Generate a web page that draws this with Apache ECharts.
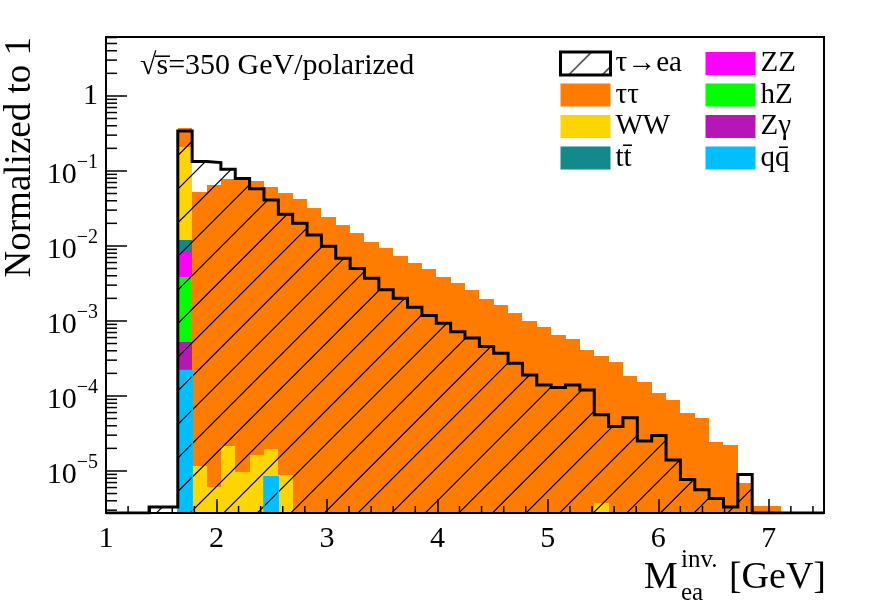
<!DOCTYPE html>
<html>
<head>
<meta charset="utf-8">
<script src="https://cdn.jsdelivr.net/npm/echarts@6/dist/echarts.min.js"></script>
<style>
html, body { margin: 0; padding: 0; background: #fff; }
#chart { width: 888px; height: 603px; }
</style>
</head>
<body>
<div id="chart"></div>
<script>
// binning of M_ea^inv (GeV)
var binLow = 1.0, binWidth = 0.13, nBins = 50;
var xMin = 1, xMax = 7.5;
var yMin = 2.75e-6, yMax = 6.1;

// tau -> e a signal (hatched, black outline)
var tauEa = [
    0, 0, 0, 3.3e-6, 3.3e-6, 0.341, 0.133, 0.129, 0.105, 0.079,
    0.058, 0.041, 0.0264, 0.020, 0.014, 0.0099, 0.00685, 0.0050, 0.0037, 0.0026,
    0.0020, 0.00152, 0.00118, 0.00093, 0.00072, 0.00059, 0.000455, 0.00037, 0.000273, 0.00019,
    0.00014, 0.00013, 0.00014, 0.00012, 5.6e-5, 3.9e-5, 5.1e-5, 2.5e-5, 2.96e-5, 1.4e-5,
    7.7e-6, 5.6e-6, 4.3e-6, 3.3e-6, 9.0e-6, 0, 0, 0, 0, 0
];
// backgrounds
var tautau = [
    0, 0, 0, 0, 0, 0.16, 0.052, 0.065, 0.0775, 0.0775,
    0.0736, 0.0606, 0.0504, 0.0419, 0.0318, 0.0246, 0.0190, 0.0150, 0.0113, 0.0093,
    0.0074, 0.0059, 0.0049, 0.0039, 0.0032, 0.0026, 0.00197, 0.00164, 0.00129, 0.00100,
    0.00082, 0.00065, 0.00057, 0.00041, 0.00034, 0.00028, 0.000185, 0.000155, 0.000109, 8.9e-5,
    6.0e-5, 5.1e-5, 2.4e-5, 2.2e-5, 6.9e-6, 3.4e-6, 3.4e-6, 0, 0, 0
];
var ww = [
    0, 0, 0, 0, 0, 0.199, 1.18e-5, 6.2e-6, 2.18e-5, 9.8e-6,
    1.63e-5, 1.12e-5, 8.7e-6, 0, 0, 0, 0, 0, 0, 0,
    0, 0, 0, 0, 0, 0, 0, 0, 0, 0,
    0, 0, 0, 0, 3.7e-6, 0, 0, 0, 0, 0,
    0, 0, 0, 0, 0, 0, 0, 0, 0, 0
];
var ttbar = [
    0, 0, 0, 0, 0, 3.6e-3, 0, 0, 0, 0,
    0, 0, 0, 0, 0, 0, 0, 0, 0, 0,
    0, 0, 0, 0, 0, 0, 0, 0, 0, 0,
    0, 0, 0, 0, 0, 0, 0, 0, 0, 0,
    0, 0, 0, 0, 0, 0, 0, 0, 0, 0
];
var zz = [
    0, 0, 0, 0, 0, 4.6e-3, 0, 0, 0, 0,
    0, 0, 0, 0, 0, 0, 0, 0, 0, 0,
    0, 0, 0, 0, 0, 0, 0, 0, 0, 0,
    0, 0, 0, 0, 0, 0, 0, 0, 0, 0,
    0, 0, 0, 0, 0, 0, 0, 0, 0, 0
];
var hz = [
    0, 0, 0, 0, 0, 3.3e-3, 0, 0, 0, 0,
    0, 0, 0, 0, 0, 0, 0, 0, 0, 0,
    0, 0, 0, 0, 0, 0, 0, 0, 0, 0,
    0, 0, 0, 0, 0, 0, 0, 0, 0, 0,
    0, 0, 0, 0, 0, 0, 0, 0, 0, 0
];
var zgamma = [
    0, 0, 0, 0, 0, 3.0e-4, 0, 0, 0, 0,
    0, 0, 0, 0, 0, 0, 0, 0, 0, 0,
    0, 0, 0, 0, 0, 0, 0, 0, 0, 0,
    0, 0, 0, 0, 0, 0, 0, 0, 0, 0,
    0, 0, 0, 0, 0, 0, 0, 0, 0, 0
];
var qqbar = [
    0, 0, 0, 0, 0, 2.18e-4, 0, 0, 0, 0,
    0, 8.4e-6, 0, 0, 0, 0, 0, 0, 0, 0,
    0, 0, 0, 0, 0, 0, 0, 0, 0, 0,
    0, 0, 0, 0, 0, 0, 0, 0, 0, 0,
    0, 0, 0, 0, 0, 0, 0, 0, 0, 0
];

var serif = '"Liberation Serif", "DejaVu Serif", serif';

// stack from bottom to top
var stackLayers = [
    { name: 'qq\u0304', values: qqbar, color: '#00bfff' },
    { name: 'Z\u03b3', values: zgamma, color: '#b616b6' },
    { name: 'hZ', values: hz, color: '#00ff00' },
    { name: 'ZZ', values: zz, color: '#ff00ff' },
    { name: 'tt\u0304', values: ttbar, color: '#12898a' },
    { name: 'WW', values: ww, color: '#ffd500' },
    { name: '\u03c4\u03c4', values: tautau, color: '#ff7c00' }
];

// hatch fill (ROOT style 3004 like)
var hatch = document.createElement('canvas');
hatch.width = 168; hatch.height = 168;
(function () {
    var ctx = hatch.getContext('2d');
    ctx.strokeStyle = '#000';
    ctx.lineWidth = 1.2;
    ctx.beginPath();
    for (var c = 31 - 33.6; c < 380; c += 33.6) {
        ctx.moveTo(c + 10, -10);
        ctx.lineTo(c - 180, 180);
    }
    ctx.stroke();
})();
var hatchFill = { image: hatch, repeat: 'repeat' };

function edge(k) { return binLow + k * binWidth; }

function renderBin(params, api) {
    var b = Math.max(api.value(2), yMin);
    var t = Math.min(api.value(3), yMax);
    if (!(t > b)) return;
    var p0 = api.coord([api.value(0), t]);
    var p1 = api.coord([api.value(1), b]);
    var x0 = Math.round(p0[0]), x1 = Math.round(p1[0]);
    var y0 = Math.round(p0[1]), y1 = Math.round(p1[1]);
    return {
        type: 'rect',
        shape: { x: x0, y: y0, width: x1 - x0, height: y1 - y0 },
        style: { fill: api.visual('color') }
    };
}

var series = [];
var cum = [];
for (var k = 0; k < nBins; k++) cum.push(0);
stackLayers.forEach(function (layer) {
    var items = [];
    for (var k = 0; k < nBins; k++) {
        var v = layer.values[k];
        if (v > 0) {
            items.push([edge(k), edge(k + 1), cum[k], cum[k] + v]);
            cum[k] += v;
        }
    }
    series.push({
        name: layer.name,
        type: 'custom',
        coordinateSystem: 'cartesian2d',
        itemStyle: { color: layer.color },
        encode: { x: [0, 1], y: 3 },
        renderItem: renderBin,
        data: items,
        silent: true
    });
});

function stepPoints(values) {
    var pts = [];
    for (var k = 0; k < nBins; k++) pts.push([edge(k), Math.max(values[k], yMin)]);
    pts.push([edge(nBins), Math.max(values[nBins - 1], yMin)]);
    return pts;
}

// qq outline along the bottom
series.push({
    name: 'qq\u0304',
    type: 'line',
    step: 'end',
    symbol: 'none',
    silent: true,
    lineStyle: { color: '#00bfff', width: 1.5 },
    data: stepPoints(qqbar)
});

// signal
series.push({
    name: '\u03c4\u2192ea',
    type: 'line',
    step: 'end',
    symbol: 'none',
    silent: true,
    lineStyle: { color: '#000', width: 3, join: 'miter' },
    itemStyle: { color: '#000' },
    areaStyle: { color: hatchFill, opacity: 1, origin: 'start' },
    data: stepPoints(tauEa)
});

// log minor ticks (2..9 x 10^n) and x minor ticks every 0.2
var yMinor = [];
for (var d = -6; d <= 0; d++) {
    for (var m = 2; m <= 9; m++) {
        var v = m * Math.pow(10, d);
        if (v > yMin && v < yMax) yMinor.push(v);
    }
}
var xMinor = [];
for (var i = 1; i < 33; i++) {
    if (i % 5 !== 0) xMinor.push(xMin + i * 0.2);
}
series.push({
    type: 'custom',
    coordinateSystem: 'cartesian2d',
    silent: true,
    z: 12,
    encode: { x: 0, y: 1 },
    data: yMinor.map(function (v) { return [xMin, v]; }),
    renderItem: function (params, api) {
        var p = api.coord([xMin, api.value(1)]);
        return { type: 'line', shape: { x1: p[0], y1: p[1], x2: p[0] + 11, y2: p[1] },
                 style: { stroke: '#000', lineWidth: 1.5 } };
    }
});
series.push({
    type: 'custom',
    coordinateSystem: 'cartesian2d',
    silent: true,
    z: 12,
    encode: { x: 0, y: 1 },
    data: xMinor.map(function (v) { return [v, yMin]; }),
    renderItem: function (params, api) {
        var p = api.coord([api.value(0), yMin]);
        return { type: 'line', shape: { x1: p[0], y1: p[1], x2: p[0], y2: p[1] - 7 },
                 style: { stroke: '#000', lineWidth: 1.5 } };
    }
});

var legendNames = ['\u03c4\u2192ea', '\u03c4\u03c4', 'WW', 'tt\u0304', 'ZZ', 'hZ', 'Z\u03b3', 'qq\u0304'];
var legendColors = {};
stackLayers.forEach(function (l) { legendColors[l.name] = l.color; });

var chart = echarts.init(document.getElementById('chart'));
chart.setOption({
    animation: false,
    backgroundColor: '#fff',
    grid: {
        left: 106, top: 37, width: 718, height: 476,
        show: true, borderColor: '#000', borderWidth: 2,
        containLabel: false, outerBoundsMode: 'none'
    },
    legend: {
        orient: 'vertical',
        left: 559, top: 49, height: 132,
        padding: 0,
        itemWidth: 50, itemHeight: 23, itemGap: 2.5,
        selectedMode: false,
        textStyle: { fontFamily: serif, fontSize: 29, color: '#000', width: 86, lineHeight: 23 },
        data: legendNames.map(function (n) {
            if (n === '\u03c4\u2192ea') {
                return { name: n, icon: 'rect',
                         itemStyle: { color: hatchFill, borderColor: '#000', borderWidth: 3 } };
            }
            return { name: n, icon: 'rect', itemStyle: { color: legendColors[n], borderWidth: 0 } };
        })
    },
    xAxis: {
        type: 'value',
        min: xMin, max: xMax, interval: 1,
        z: 10,
        splitLine: { show: false },
        axisLine: { onZero: false, lineStyle: { color: '#000', width: 2 } },
        axisTick: { inside: true, length: 14, lineStyle: { color: '#000', width: 1.5 } },
        axisLabel: {
            margin: 11, color: '#000', fontFamily: serif, fontSize: 30,
            formatter: function (v) { return Math.abs(v - Math.round(v)) < 1e-9 ? String(Math.round(v)) : ''; }
        }
    },
    yAxis: {
        type: 'log', logBase: 10,
        min: yMin, max: yMax,
        z: 10,
        splitLine: { show: false },
        axisLine: { lineStyle: { color: '#000', width: 2 } },
        axisTick: { inside: true, length: 21, lineStyle: { color: '#000', width: 1.5 } },
        axisLabel: {
            margin: 8, color: '#000', fontFamily: serif, fontSize: 30,
            formatter: function (v) {
                var l = Math.log10(v), e = Math.round(l);
                if (Math.abs(l - e) > 1e-6) return '';
                if (e === 0) return '{o|1}';
                return '{b|10}{s|\u2212' + (-e) + '}';
            },
            rich: {
                o: { fontFamily: serif, fontSize: 30 },
                b: { fontFamily: serif, fontSize: 30, lineHeight: 36, padding: [8, 0, 0, 0] },
                s: { fontFamily: serif, fontSize: 20, lineHeight: 24, verticalAlign: 'top' }
            }
        }
    },
    graphic: [
        { type: 'text', x: 140, y: 66, z: 20,
          style: { text: '\u221as\u0305=350 GeV/polarized', font: '30px ' + serif, fill: '#000', verticalAlign: 'middle' } },
        { type: 'text', x: 20, y: 37, rotation: Math.PI / 2, z: 20,
          style: { text: 'Normalized to 1', font: '37px ' + serif, fill: '#000', align: 'right', verticalAlign: 'middle' } },
        { type: 'text', x: 644, y: 578, z: 20,
          style: { text: 'M', font: '38px ' + serif, fill: '#000', verticalAlign: 'middle' } },
        { type: 'text', x: 681, y: 560, z: 20,
          style: { text: 'inv.', font: '25px ' + serif, fill: '#000', verticalAlign: 'middle' } },
        { type: 'text', x: 681, y: 593, z: 20,
          style: { text: 'ea', font: '25px ' + serif, fill: '#000', verticalAlign: 'middle' } },
        { type: 'text', x: 826, y: 578, z: 20,
          style: { text: '[GeV]', font: '38px ' + serif, fill: '#000', align: 'right', verticalAlign: 'middle' } }
    ],
    series: series
});
</script>
</body>
</html>
